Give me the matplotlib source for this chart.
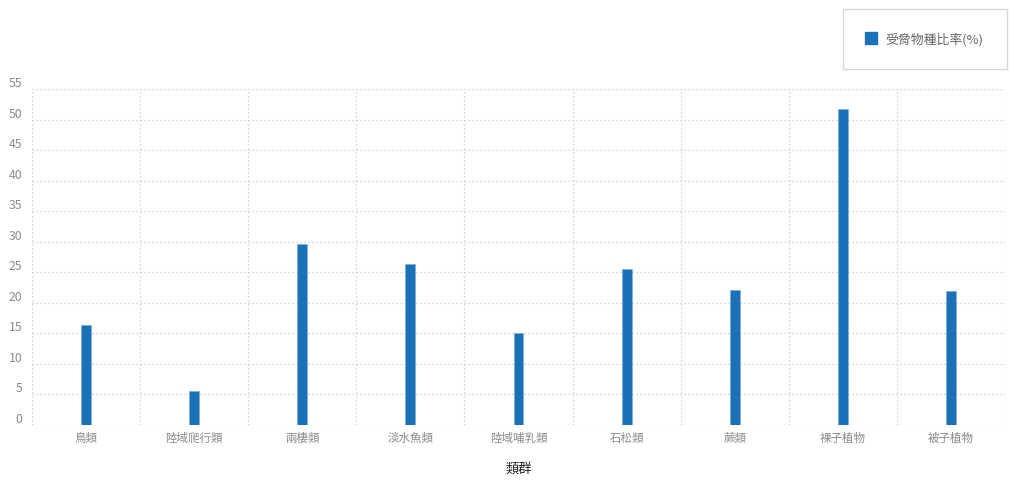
import matplotlib
matplotlib.use("Agg")
import matplotlib.pyplot as plt
from matplotlib.lines import Line2D
import numpy as np

plt.rcParams['font.family'] = ['Noto Sans CJK TC', 'DejaVu Sans']

categories = ['鳥類', '陸域爬行類', '兩棲類', '淡水魚類', '陸域哺乳類', '石松類', '蕨類', '裸子植物', '被子植物']
threatened_pct = [16.4, 5.6, 29.7, 26.3, 15.0, 25.5, 22.1, 51.7, 22.0]
y_ticks = [0, 5, 10, 15, 20, 25, 30, 35, 40, 45, 50, 55]
series_name = '受脅物種比率(%)'
x_title = '類群'

BAR_COLOR = '#1a71b8'
GRID_COLOR = '#cfcfcf'
TICK_COLOR = '#8a8a8a'

W, H = 1012, 481
fig = plt.figure(figsize=(W / 100, H / 100), dpi=100)
ax = fig.add_axes([32 / W, (H - 426) / H, (1005 - 32) / W, (426 - 90) / H])

x = np.arange(len(categories))
ax.bar(x, threatened_pct, width=0.092, color=BAR_COLOR,
       edgecolor='#7fb0dc', linewidth=0.6, zorder=3)

ax.set_xlim(-0.5, len(categories) - 0.5)
ax.set_ylim(0, 55)

# horizontal dotted grid at each tick, vertical dotted grid at category boundaries
dot = (0, (1.2, 2.0))
for yv in y_ticks:
    ax.axhline(yv, color=GRID_COLOR, lw=0.9, ls=dot, zorder=1)
for xv in np.arange(-0.5, len(categories), 1.0):
    ax.axvline(xv, color=GRID_COLOR, lw=0.9, ls=dot, zorder=1)

for s in ax.spines.values():
    s.set_visible(False)

ax.set_xticks(x)
ax.set_xticklabels(categories)
ax.set_yticks(y_ticks)
ax.set_yticklabels([str(v) for v in y_ticks])
ax.tick_params(axis='both', length=0, colors=TICK_COLOR, labelsize=8.3)
ax.tick_params(axis='y', pad=7)
ax.tick_params(axis='x', pad=4)
for lbl in ax.get_yticklabels():
    lbl.set_verticalalignment('bottom')
    lbl.set_fontsize(8.8)

ax.set_xlabel(x_title, fontsize=9.5, color='#222222', labelpad=14)

handle = Line2D([], [], marker='s', linestyle='none', markersize=8.5,
                markerfacecolor=BAR_COLOR, markeredgecolor=BAR_COLOR)
leg = fig.legend([handle], [series_name], loc='upper left',
                 bbox_to_anchor=(843 / W, 1 - 10 / H), bbox_transform=fig.transFigure,
                 borderaxespad=0, frameon=True, fancybox=False, borderpad=1.8,
                 handlelength=0.8, handletextpad=0.7, fontsize=9.3,
                 labelcolor='#666666')
leg.get_frame().set_edgecolor('#cccccc')
leg.get_frame().set_linewidth(0.9)

fig.savefig('out.png', dpi=100)
